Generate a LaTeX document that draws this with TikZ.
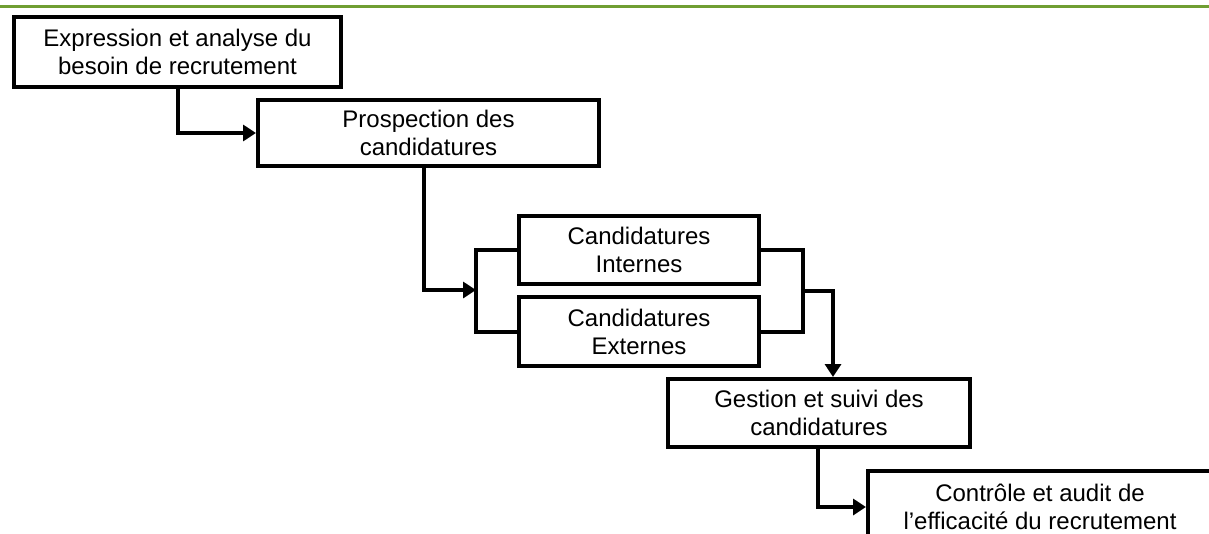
\documentclass[tikz,border=0pt]{standalone}
\usepackage{fontspec}
\setmainfont{Liberation Sans}
\usetikzlibrary{arrows.meta}
\definecolor{rulegreen}{RGB}{112,158,50}
\begin{document}
\begin{tikzpicture}[x=1pt,y=-1pt,
  stepbox/.style={draw=black,line width=4pt,rectangle,inner sep=0pt,
    align=center,font=\fontsize{24}{28}\selectfont},
  link/.style={line width=4pt,-{Triangle[length=13pt,width=16pt]}},
  wire/.style={line width=4pt}]
\useasboundingbox (0,0) rectangle (1209,533);
% green rule across the top
\draw[rulegreen,line width=3pt] (0,6.5) -- (1209,6.5);

\node[stepbox,minimum width=327pt,minimum height=70pt] (besoin) at (177.5,52)
  {Expression et analyse du\\besoin de recrutement};
\node[stepbox,minimum width=341pt,minimum height=66pt] (prosp) at (428.5,133)
  {Prospection des\\candidatures};
\node[stepbox,minimum width=240pt,minimum height=68pt] (interne) at (639,250)
  {Candidatures\\Internes};
\node[stepbox,minimum width=240pt,minimum height=69pt] (externe) at (639,331.5)
  {Candidatures\\Externes};
\node[stepbox,minimum width=302pt,minimum height=68pt] (gestion) at (819,413)
  {Gestion et suivi des\\candidatures};
\node[stepbox,minimum width=344pt,minimum height=72pt] (audit) at (1040,507)
  {Contrôle et audit de\\l’efficacité du recrutement};

% junction points of the two brackets
\coordinate (splitL) at (476,290);
\coordinate (splitR) at (803,291);

\draw[link] (besoin.south -| 178,0) |- (prosp.west);
\draw[link] (prosp.south -| 424,0) |- (splitL);
\draw[wire] (interne.west) -| (splitL) |- (externe.west);
\draw[wire] (interne.east) -| (splitR) |- (externe.east);
\draw[link] (splitR) -| (gestion.north -| 833,0);
\draw[link] (gestion.south -| 818,0) |- (audit.west);
\end{tikzpicture}
\end{document}
